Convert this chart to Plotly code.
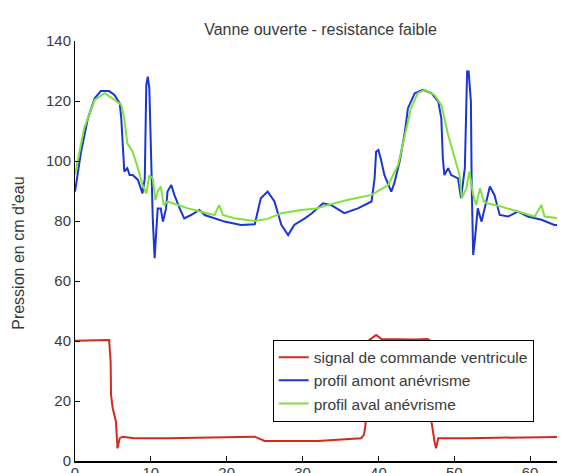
import plotly.graph_objects as go

# Time axis values (s) and pressures (cm d'eau)
t_signal = [0, 4.3, 4.5, 4.7, 4.75, 4.97, 5.4, 5.6, 5.9, 6.3, 7.8, 12.2, 21.0, 23.7, 25.0, 32.0,
            37.7, 38.1, 38.3, 38.8, 39.7, 40.4, 44.8, 46.5, 46.7, 47.0, 47.4, 47.6, 47.9, 51.8, 65.7]
p_signal = [40.1, 40.1, 40.3, 33.1, 22, 17.6, 13.1, 4.2, 7.6, 8.1, 7.6, 7.6, 8.1, 8.1, 6.7, 6.7,
            7.6, 8.7, 12, 40.3, 42, 40.7, 40.5, 40.7, 40.3, 13.1, 6.5, 4.2, 7.6, 7.6, 8.1]

t_amont = [0, 0.8, 1.7, 2.6, 3.4, 4.5, 5.2, 5.9, 6.1, 6.3, 6.5, 6.9, 7.2, 7.6, 8.3, 8.9, 9.2, 9.4,
           9.6, 9.8, 10.0, 10.25, 10.5, 10.7, 10.9, 11.3, 11.6, 12.0, 12.2, 12.7, 13.1, 13.8, 14.4,
           15.3, 16.4, 17.1, 18.4, 19.7, 21.9, 23.7, 24.5, 25.4, 26.3, 27.2, 28.1, 28.9, 30.3, 31.2,
           32.7, 33.8, 35.5, 37.3, 39.1, 39.5, 39.7, 40.0, 40.3, 40.8, 41.7, 42.1, 42.8, 43.5, 43.9,
           44.8, 45.9, 47.0, 47.9, 48.3, 48.5, 48.7, 49.2, 49.6, 50.5, 50.9, 51.4, 51.7, 51.9, 52.2,
           52.3, 52.5, 52.7, 52.9, 53.1, 53.6, 54.0, 54.7, 55.3, 56.0, 57.1, 58.4, 59.7, 61.5, 63.2,
           65.7]
p_amont = [89.8, 103.1, 114.2, 120.9, 123.3, 123.3, 122, 119.2, 114.2, 105.3, 96.5, 97.6, 95.3, 95.3,
           93.7, 89.2, 94.2, 125.3, 128.1, 124.2, 102, 80.9, 67.6, 75.3, 84.2, 84.2, 79.8, 84.2, 89.8,
           92, 88.7, 84.2, 80.9, 82, 83.7, 82, 80.9, 79.8, 78.7, 78.9, 87.6, 89.8, 86.5, 78.7, 75.3,
           78.7, 80.9, 82.5, 85.9, 85.3, 82.6, 84.2, 86.5, 94.2, 103.1, 103.7, 100.9, 95.3, 89.8,
           92.6, 99.8, 109.8, 117.6, 122.6, 123.7, 122.6, 119.8, 114.2, 100.9, 95.3, 97.6, 95.3,
           94.2, 87.6, 97.6, 129.8, 129.8, 119.8, 92, 68.7, 73.1, 78.7, 84.2, 79.8, 84.2, 91.5, 88.7,
           82, 81.5, 83.1, 81.5, 80.4, 78.7, 78.7]

t_aval = [0, 1.2, 2.6, 3.9, 5.2, 6.1, 6.5, 6.9, 7.6, 8.3, 8.9, 9.4, 9.8, 10.25, 10.6, 10.9, 11.3,
          11.7, 12.2, 13.5, 14.9, 16.6, 18.4, 19.0, 19.5, 21.0, 23.7, 25.4, 27.2, 29.8, 31.8, 33.3,
          35.9, 39.1, 41.3, 42.6, 43.5, 44.3, 45.2, 46.1, 47.4, 48.3, 49.2, 50.1, 50.7, 51.0, 51.6,
          52.0, 52.5, 52.9, 53.4, 53.9, 54.4, 56.2, 58.4, 60.6, 61.5, 61.9, 65.7]
p_aval = [95.4, 110.9, 120.4, 122.6, 120.4, 118.7, 114.2, 105.9, 103.1, 97.6, 92, 89.2, 95.3, 94.2,
          87, 89.8, 91.5, 85.3, 86.5, 85.3, 84.2, 83.1, 82, 85.3, 82, 80.9, 80, 80.7, 82.6, 83.7,
          84.2, 85.3, 87, 88.7, 92, 98.7, 108.7, 117.6, 122.6, 123.7, 122, 118.7, 108.7, 100.9, 95.3,
          87.6, 90.9, 96.5, 88.7, 85.3, 90.9, 86.5, 85.9, 84.8, 83.1, 81.5, 85.3, 81.5, 80.4]

y_ticks = [0, 20, 40, 60, 80, 100, 120, 140]
x_ticks = [0, 10, 20, 30, 40, 50, 60]

FONT = "Liberation Sans, Arial, sans-serif"
TXT = "#3a3a3a"

fig = go.Figure()
fig.add_trace(go.Scatter(x=t_signal, y=p_signal, mode="lines", name="signal de commande ventricule",
                         line=dict(color="#d42a1e", width=2)))
fig.add_trace(go.Scatter(x=t_amont, y=p_amont, mode="lines", name="profil amont anévrisme",
                         line=dict(color="#1a35d4", width=2)))
fig.add_trace(go.Scatter(x=t_aval, y=p_aval, mode="lines", name="profil aval anévrisme",
                         line=dict(color="#80e040", width=2)))

fig.update_layout(
    width=565, height=473,
    margin=dict(l=67, r=0, t=33, b=20),
    paper_bgcolor="white", plot_bgcolor="white",
    font=dict(family=FONT, size=15, color=TXT),
    title=dict(text="Vanne ouverte - resistance faible", x=0.493, xref="paper",
               y=1 - 21 / 473, yref="container", xanchor="center", yanchor="middle",
               font=dict(family=FONT, size=16, color=TXT)),
    xaxis=dict(range=[0, 65.66], tickvals=x_ticks, showgrid=False, zeroline=False,
               showline=True, linecolor="black", linewidth=2, ticks="inside", ticklen=5,
               tickcolor="black", tickfont=dict(size=15, color=TXT), ticklabelstandoff=-3),
    yaxis=dict(range=[0, 140], tickvals=y_ticks, showgrid=False, zeroline=False,
               showline=True, linecolor="black", linewidth=1, ticks="inside", ticklen=5,
               tickcolor="black", tickfont=dict(size=15, color=TXT)),
    legend=dict(x=0.397, y=0.289, xanchor="left", yanchor="top", bgcolor="white",
                bordercolor="black", borderwidth=1, font=dict(size=15.5, color=TXT),
                tracegroupgap=0),
    annotations=[dict(text="Pression en cm d'eau", xref="paper", yref="paper",
                      x=-0.095, y=0.495, showarrow=False, textangle=-90,
                      xanchor="center", yanchor="middle", xshift=-10,
                      font=dict(family=FONT, size=16, color=TXT))],
)

fig.write_html("out.html")
